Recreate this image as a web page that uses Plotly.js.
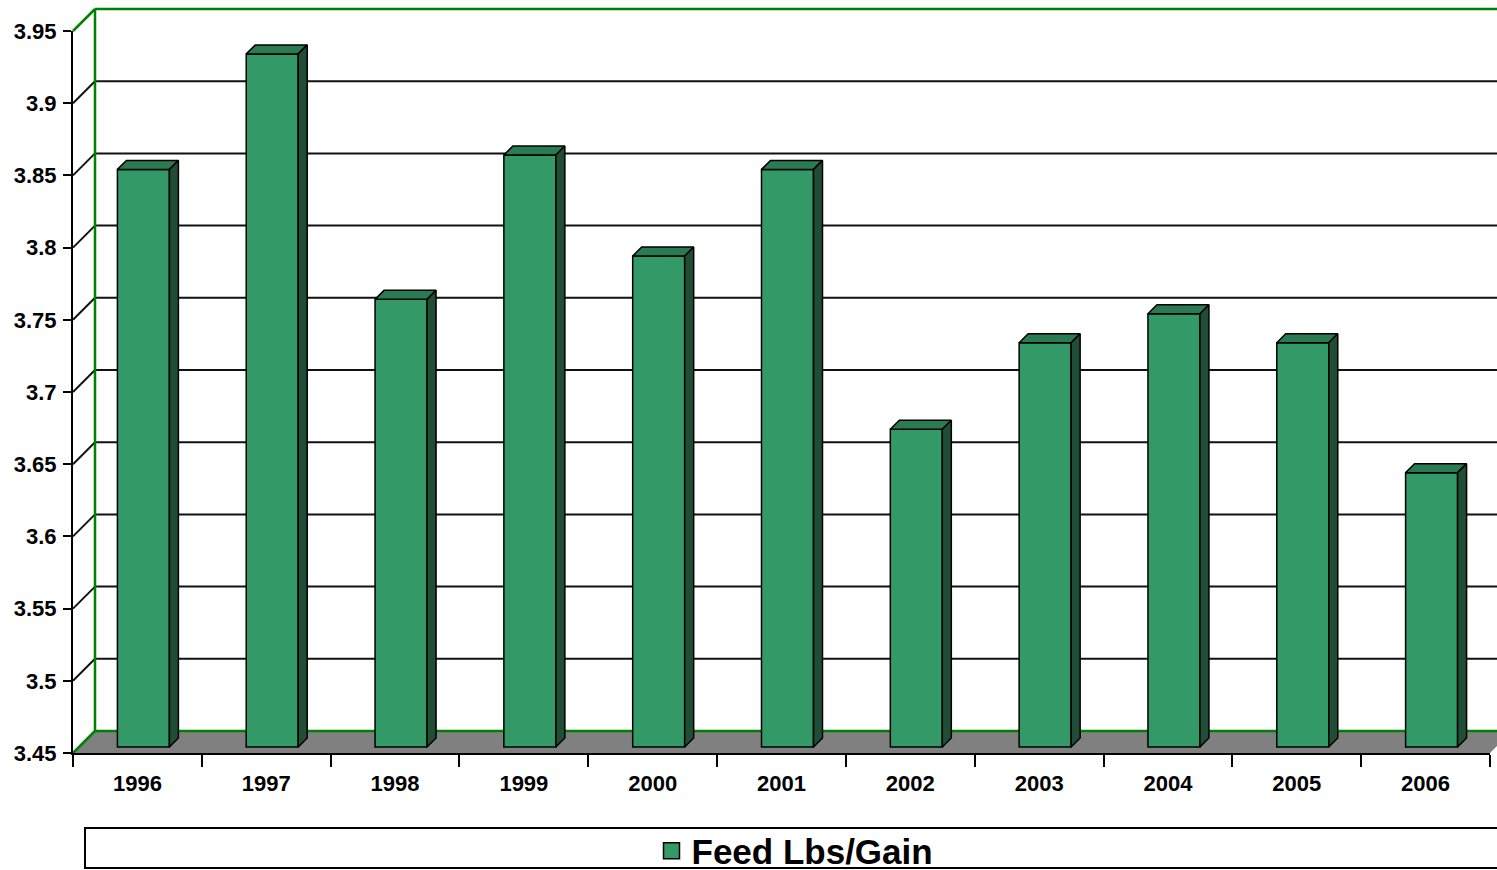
<!DOCTYPE html>
<html>
<head>
<meta charset="utf-8">
<script src="https://cdn.plot.ly/plotly-3.0.1.min.js"></script>
<style>html,body{margin:0;padding:0;background:#fff;}#chart{width:1497px;height:870px;}</style>
</head>
<body>
<div id="chart"></div>
<script>
// ---- data ----
const years = ['1996','1997','1998','1999','2000','2001','2002','2003','2004','2005','2006'];
const feedLbsPerGain = [3.85, 3.93, 3.76, 3.86, 3.79, 3.85, 3.67, 3.73, 3.75, 3.73, 3.64];
const yTickVals = [3.45, 3.5, 3.55, 3.6, 3.65, 3.7, 3.75, 3.8, 3.85, 3.9, 3.95];
const yTickText = ['3.45','3.5','3.55','3.6','3.65','3.7','3.75','3.8','3.85','3.9','3.95'];
const seriesName = 'Feed Lbs/Gain';

// ---- geometry of the 3D frame (pixels) ----
const W = 1497, H = 870;
const L = 73, R = 1490, T = 31, B = 753;   // front plane of the plot
const yMin = 3.45, yMax = 3.95;
const n = years.length;
const cw = (R - L) / n;                     // px per category
const ppu = (B - T) / (yMax - yMin);        // px per y unit
const dx = p => p / cw;
const dy = p => p / ppu;
const WALL = 22, BD1 = 6, BD2 = 15, BW = 52 / cw;

const xFull = [-L / cw - 0.5, (W - L) / cw - 0.5];
const yFull = [yMin - (H - B) / ppu, yMin + B / ppu];
const xLeft = -0.5, xRight = n - 0.5;

const font = 'Liberation Sans, Arial, Helvetica, sans-serif';
const green = '#008000';

// ---- shapes: walls, floor, gridlines ----
const shapes = [];
// legend box
shapes.push({type:'rect', xref:'paper', yref:'paper', x0: 85/W, x1: 1.02, y0: (H-868)/H, y1: (H-828)/H,
  line:{color:'#000', width:2}, fillcolor:'#fff', layer:'below'});
// floor
shapes.push({type:'path', xref:'x', yref:'y', layer:'below', fillcolor:'#808080', line:{width:0},
  path: `M${xLeft},${yMin} L${xRight},${yMin} L${xRight+dx(WALL)},${yMin+dy(WALL)} L${xLeft+dx(WALL)},${yMin+dy(WALL)} Z`});
// gridlines on back wall and side wall
yTickVals.slice(1, -1).forEach(v => {
  shapes.push({type:'line', xref:'x', yref:'y', layer:'below', line:{color:'#111', width:2},
    x0: xLeft + dx(WALL), x1: xFull[1] + 1, y0: v + dy(WALL), y1: v + dy(WALL)});
  shapes.push({type:'line', xref:'x', yref:'y', layer:'below', line:{color:'#111', width:2},
    x0: xLeft, x1: xLeft + dx(WALL), y0: v, y1: v + dy(WALL)});
});
// green wall borders
const gl = (x0,y0,x1,y1) => shapes.push({type:'line', xref:'x', yref:'y', layer:'below',
  line:{color:green, width:2.5}, x0, y0, x1, y1});
gl(xLeft + dx(WALL), yMin + dy(WALL), xLeft + dx(WALL), yMax + dy(WALL));
gl(xLeft + dx(WALL), yMax + dy(WALL), xFull[1] + 1, yMax + dy(WALL));
gl(xLeft, yMax, xLeft + dx(WALL), yMax + dy(WALL));
gl(xLeft, yMin, xLeft + dx(WALL), yMin + dy(WALL));
gl(xLeft + dx(WALL), yMin + dy(WALL), xFull[1] + 1, yMin + dy(WALL));

// ---- bars ----
const idx = years.map((_, i) => i);
const frontTrace = {
  type:'bar', x: idx.map(i => i + dx(BD1)), y: feedLbsPerGain.map(v => v - yMin),
  base: yMin + dy(BD1), width: BW, showlegend:false, hoverinfo:'skip',
  marker:{color:'#339966', line:{color:'#000', width:1.5}}
};
const topX = [], topY = [], sideX = [], sideY = [];
const ddx = dx(BD2 - BD1), ddy = dy(BD2 - BD1);
feedLbsPerGain.forEach((v, i) => {
  const xl = i + dx(BD1) - BW / 2, xr = xl + BW;
  const vt = v + dy(BD1), vb = yMin + dy(BD1);
  topX.push(xl, xr, xr + ddx, xl + ddx, xl, null);
  topY.push(vt, vt, vt + ddy, vt + ddy, vt, null);
  sideX.push(xr, xr, xr + ddx, xr + ddx, xr, null);
  sideY.push(vb, vt, vt + ddy, vb + ddy, vb, null);
});
const topTrace = {type:'scatter', mode:'lines', x: topX, y: topY, fill:'toself', fillcolor:'#2a7a52',
  line:{color:'#000', width:1.5}, showlegend:false, hoverinfo:'skip'};
const sideTrace = {type:'scatter', mode:'lines', x: sideX, y: sideY, fill:'toself', fillcolor:'#1f4d35',
  line:{color:'#000', width:1.5}, showlegend:false, hoverinfo:'skip'};
const legendTrace = {type:'scatter', mode:'markers', x:[null], y:[null], name: seriesName, showlegend:true,
  marker:{symbol:'square', size:16, color:'#339966', line:{color:'#000', width:1.5}}};
// category axis carrier for the front-plane axes
const axisTrace = {type:'scatter', mode:'markers', x: years, y: years.map(() => null), xaxis:'x2', yaxis:'y2',
  showlegend:false, hoverinfo:'skip', marker:{opacity:0}};

const layout = {
  width: W, height: H, autosize:false,
  margin:{l:0, r:0, t:0, b:0, pad:0, autoexpand:false},
  paper_bgcolor:'#fff', plot_bgcolor:'rgba(0,0,0,0)',
  hovermode:false, barmode:'overlay',
  font:{family: font, color:'#000'},
  xaxis:{domain:[0,1], range:xFull, visible:false, fixedrange:true},
  yaxis:{domain:[0,1], range:yFull, visible:false, fixedrange:true},
  xaxis2:{domain:[L/W, R/W], anchor:'y2', type:'category', categoryarray: years, categoryorder:'array',
    range:[-0.5, n - 0.5], tickson:'boundaries', ticks:'outside', ticklen:12, tickwidth:2, tickcolor:'#000',
    showline:true, linecolor:'#000', linewidth:2, showgrid:false, zeroline:false, fixedrange:true,
    tickfont:{family: font, size:22, weight:700, color:'#000'}, ticklabelstandoff: 10},
  yaxis2:{domain:[(H-B)/H, (H-T)/H], anchor:'x2', range:[yMin, yMax], tickmode:'array',
    tickvals: yTickVals, ticktext: yTickText, ticks:'outside', ticklen:8, tickwidth:2, tickcolor:'#000',
    showline:true, linecolor:'#000', linewidth:2, showgrid:false, zeroline:false, fixedrange:true,
    tickfont:{family: font, size:22, weight:700, color:'#000'}, ticklabelstandoff: 2},
  legend:{orientation:'h', x: 795/W, xanchor:'center', y: (H-851)/H, yanchor:'middle',
    bgcolor:'rgba(0,0,0,0)', borderwidth:0, font:{family: font, size:35, weight:700, color:'#000'}},
  shapes: shapes
};

Plotly.newPlot('chart', [frontTrace, topTrace, sideTrace, legendTrace, axisTrace], layout,
  {displayModeBar:false, staticPlot:true});
</script>
</body>
</html>
